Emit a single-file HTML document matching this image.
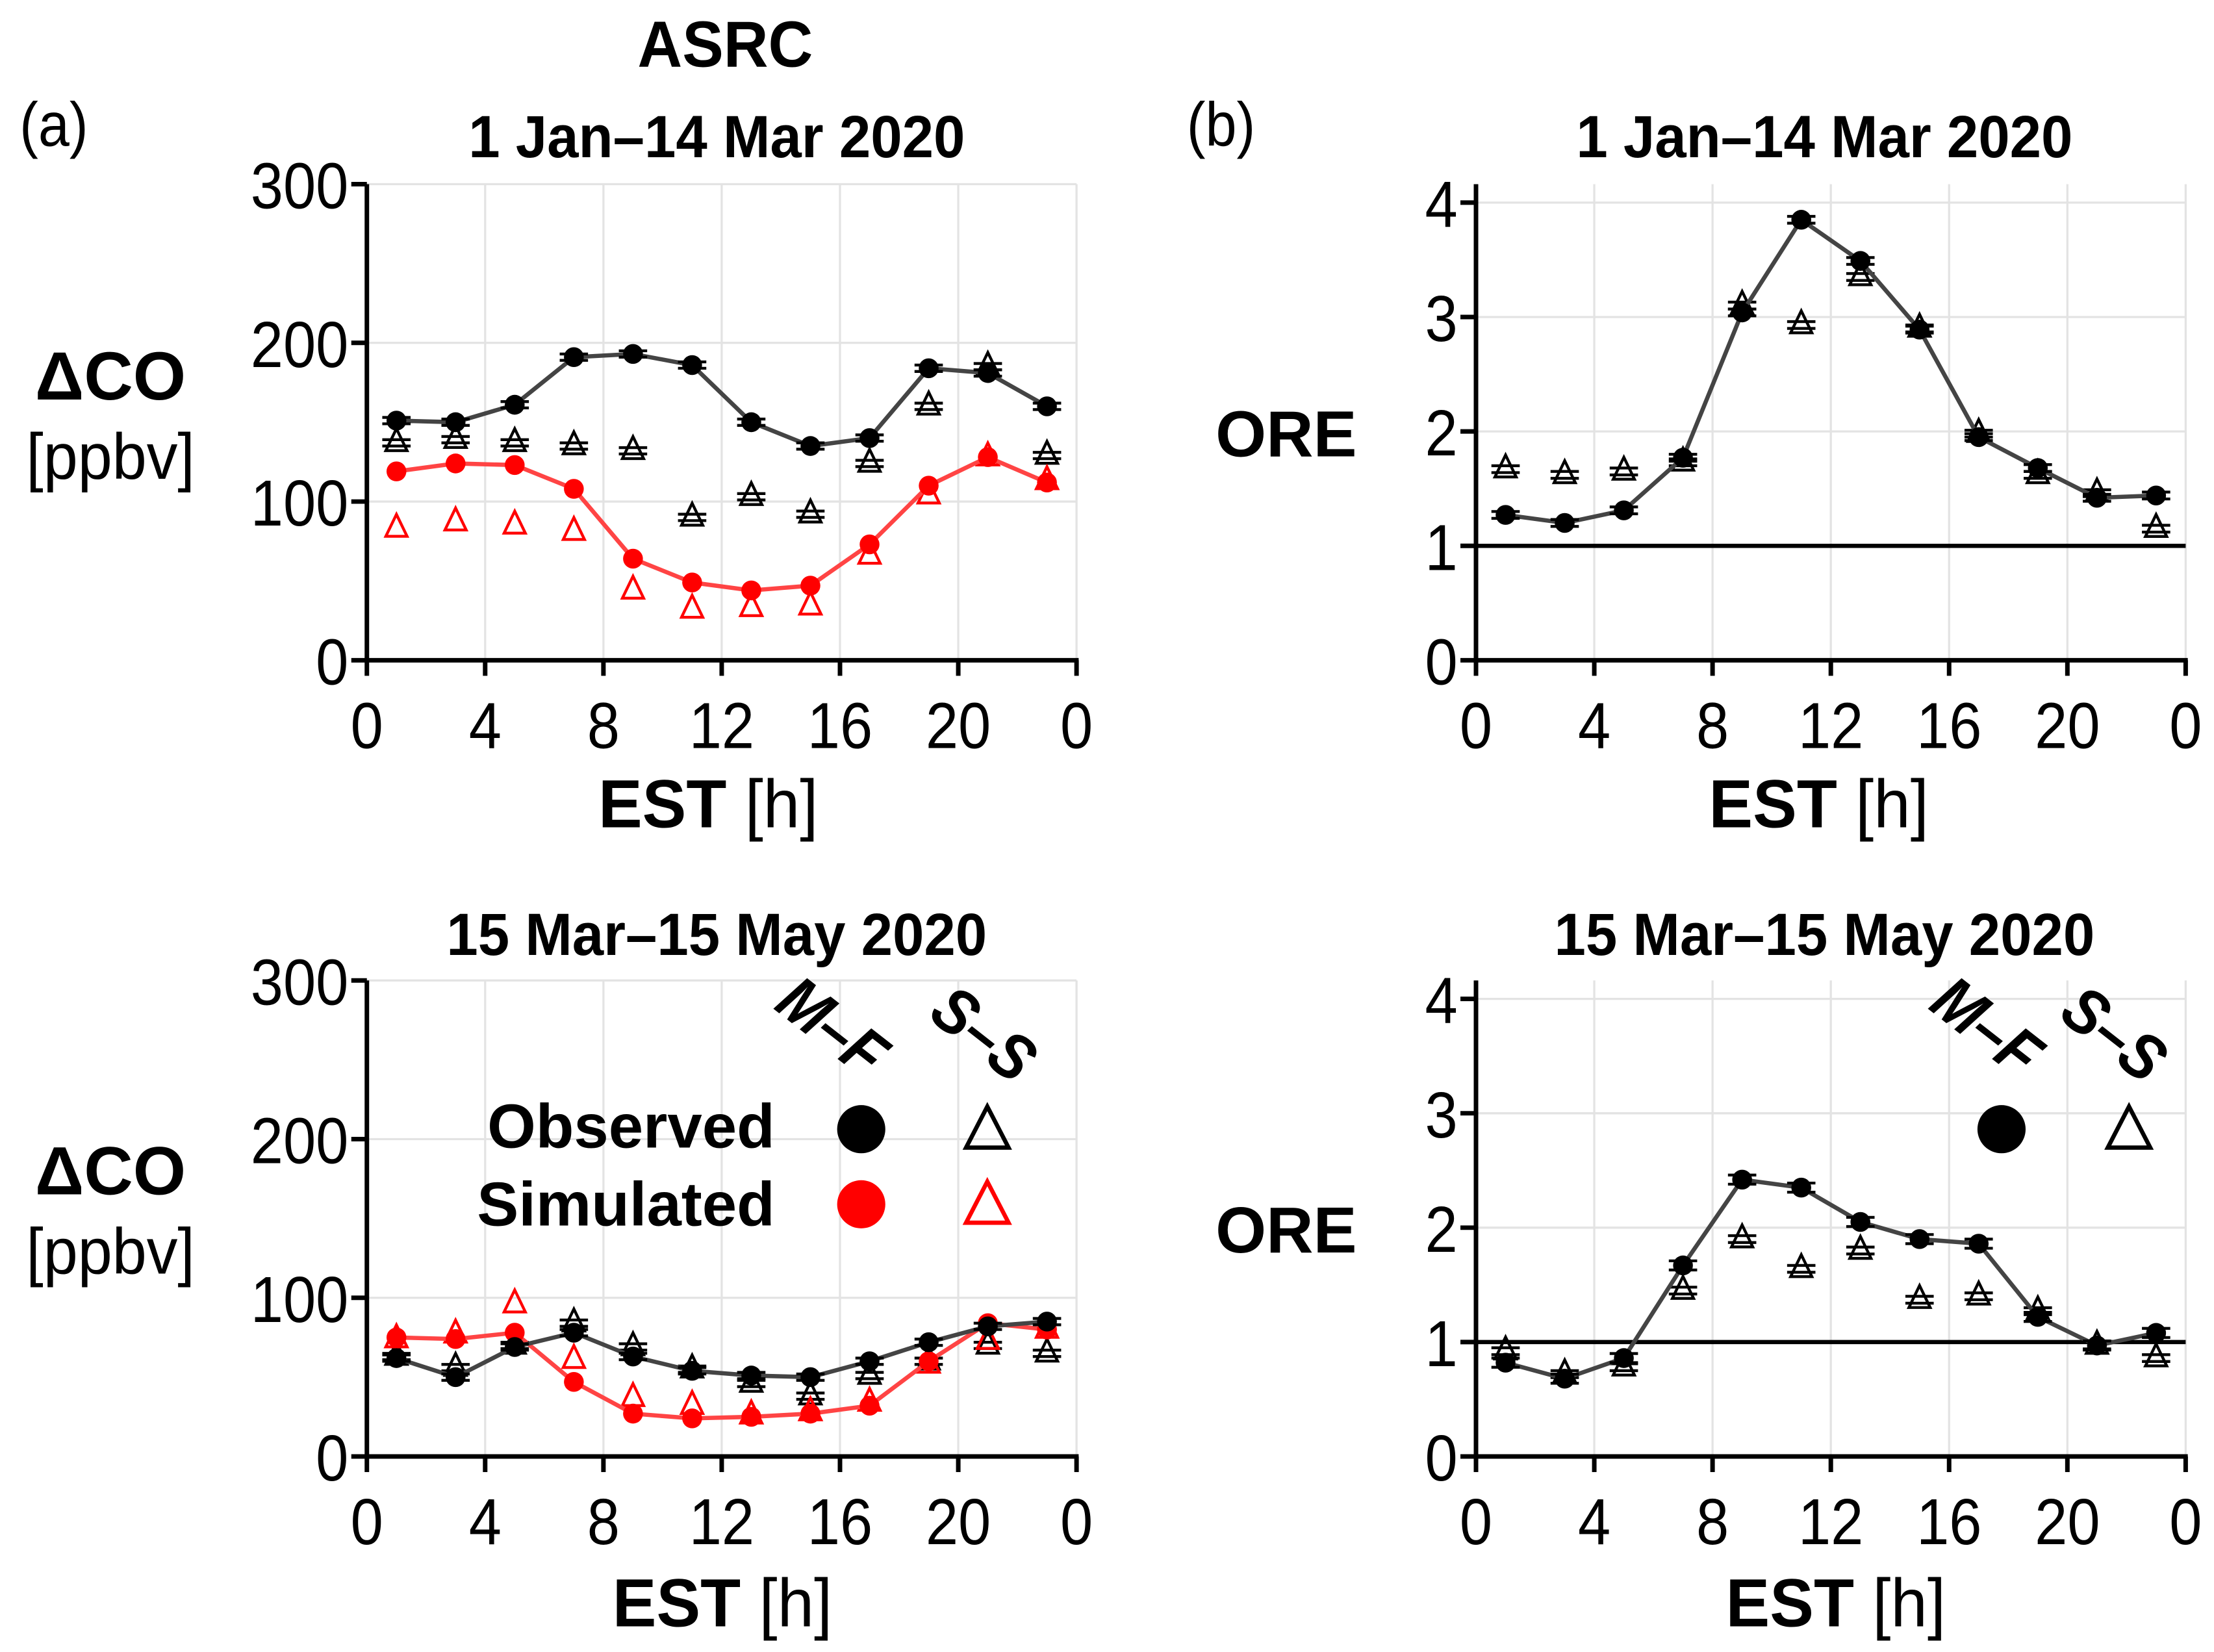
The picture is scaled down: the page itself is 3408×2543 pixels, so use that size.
<!DOCTYPE html>
<html><head><meta charset="utf-8"><style>
html,body{margin:0;padding:0;background:#fff}
svg{display:block}
text{font-family:"Liberation Sans Narrow","Liberation Sans",sans-serif}
.b{font-family:"Liberation Sans",sans-serif;font-weight:bold}
</style></head><body>
<svg id="fig" width="3408" height="2543" viewBox="0 0 1563 1166" preserveAspectRatio="none" xmlns="http://www.w3.org/2000/svg">
<text x="512" y="47" text-anchor="middle" font-size="46" class="b" data-sx="0.95">ASRC</text>
<text x="38" y="103" text-anchor="middle" font-size="44" data-sx="0.9">(a)</text>
<text x="862" y="103" text-anchor="middle" font-size="44" data-sx="0.9">(b)</text>
<g id="plots"></g>
</svg>
<script>
const hours=[1,3,5,7,9,11,13,15,17,19,21,23];
const xTicks=[0,4,8,12,16,20,24];
const xTickLabels=["0","4","8","12","16","20","0"];
const coTicks=[0,100,200,300];
const oreTicks=[0,1,2,3,4];
// Panel a top (1 Jan–14 Mar)
const coObsMF1=[151,150,161,191,193,186,150,135,140,184,181,160];
const coObsSS1=[137,139,137,135,132,90,103,92,124,160,185,129];
const coSimMF1=[119,124,123,108,64,49,44,47,73,110,128,112];
const coSimSS1=[83,87,85,81,44,32,33,34,66,104,128,113];
// Panel a bottom (15 Mar–15 May)
const coObsMF2=[62,50,69,78,63,54,51,50,60,72,82,85];
const coObsSS2=[63,56,70,84,69,55,46,38,51,60,70,65];
const coSimMF2=[75,74,78,47,27,24,25,27,32,60,84,80];
const coSimSS2=[74,77,96,61,37,32,26,28,34,58,73,80];
// Panel b
const oreMF1=[1.27,1.20,1.31,1.77,3.04,3.85,3.49,2.89,1.95,1.68,1.42,1.44];
const oreSS1=[1.67,1.62,1.65,1.73,3.10,2.93,3.35,2.90,1.98,1.62,1.46,1.15];
const oreMF2=[0.82,0.68,0.86,1.67,2.42,2.35,2.05,1.90,1.86,1.22,0.97,1.08];
const oreSS2=[0.92,0.72,0.78,1.45,1.90,1.64,1.80,1.37,1.40,1.27,0.97,0.86];

const NS="http://www.w3.org/2000/svg";
const root=document.getElementById('plots');
function mk(tag,attrs,parent){const e=document.createElementNS(NS,tag);for(const k in attrs)e.setAttribute(k,attrs[k]);(parent||root).appendChild(e);return e;}
function txt(x,y,s,size,anchor,cls,parent,sx){const t=mk('text',{x:x,y:y,'font-size':size,'text-anchor':anchor||'middle','data-sx':sx||0.95},parent);if(cls)t.setAttribute('class',cls);t.textContent=s;return t;}

function panel(o){
  const g=mk('g',{});
  
  
  const X=h=>o.x0+(o.x1-o.x0)*h/24;
  const Y=v=>o.y0-(o.y0-o.yTop)*v/o.ymax;
  xTicks.forEach(t=>{const l=mk('line',{x1:X(t),x2:X(t),y1:o.gridTop,y2:o.y0,stroke:'#e3e3e3','stroke-width':1.5},g);});
  o.yt.forEach(t=>{const l=mk('line',{x1:o.x0,x2:o.x1,y1:Y(t),y2:Y(t),stroke:'#e3e3e3','stroke-width':1.5},g);});
  if(o.ref){const l=mk('line',{x1:o.x0,x2:o.x1,y1:Y(1),y2:Y(1),stroke:'#000','stroke-width':3},g);}
  const ya=mk('line',{x1:o.x0,x2:o.x0,y1:o.gridTop,y2:o.y0+1.5,stroke:'#000','stroke-width':3.2},g);
  
  const xa=mk('line',{x1:o.x0-1.5,x2:o.x1+1.5,y1:o.y0,y2:o.y0,stroke:'#000','stroke-width':3.2},g);
  
  xTicks.forEach((t,i)=>{
    mk('line',{x1:X(t),x2:X(t),y1:o.y0,y2:o.y0+11,stroke:'#000','stroke-width':3.2},g);
    const tl=txt(X(t),o.y0+62,xTickLabels[i],46,'middle',null,g,0.9);
    
  });
  o.yt.forEach(t=>{
    mk('line',{x1:o.x0-11,x2:o.x0,y1:Y(t),y2:Y(t),stroke:'#000','stroke-width':3.2},g);
    const tl=txt(o.x0-13,Y(t)+17,String(t),46,'end',null,g,0.9);
    
  });
  o.series.forEach(s=>{
    if(s.line){
      const pl=mk('polyline',{points:hours.map((h,i)=>X(h)+','+Y(s.v[i])).join(' '),fill:'none',stroke:s.lc,'stroke-width':3},g);
      
    }
    hours.forEach((h,i)=>{
      const cx=X(h),cy=Y(s.v[i]);
      if(s.err){
        const e=s.err;
        mk('line',{x1:cx-10,x2:cx+10,y1:Y(s.v[i]+e),y2:Y(s.v[i]+e),stroke:'#000','stroke-width':2},g);
        mk('line',{x1:cx-10,x2:cx+10,y1:Y(s.v[i]-e),y2:Y(s.v[i]-e),stroke:'#000','stroke-width':2},g);
      }
      let m;
      if(s.shape==='c'){m=mk('circle',{cx:cx,cy:cy,r:7,fill:s.c},g);}
      else{m=mk('polygon',{points:`${cx},${cy-10} ${cx-7.5},${cy+5.5} ${cx+7.5},${cy+5.5}`,fill:'none',stroke:s.c,'stroke-width':2},g);}
      
      
    });
  });
  return {g,X,Y};
}

const xA0=259,xA1=760,xB0=1042,xB1=1543;
panel({name:'panel-a-top',x0:xA0,x1:xA1,y0:466,yTop:130,gridTop:130,ymax:300,yt:coTicks,series:[
 {name:'obs-ss',v:coObsSS1,shape:'t',c:'#000',err:2},
 {name:'sim-ss',v:coSimSS1,shape:'t',c:'#f00'},
 {name:'sim-mf',v:coSimMF1,shape:'c',c:'#f00',line:true,lc:'#f44'},
 {name:'obs-mf',v:coObsMF1,shape:'c',c:'#000',line:true,lc:'#444',err:2}]});
panel({name:'panel-a-bottom',x0:xA0,x1:xA1,y0:1028,yTop:692,gridTop:692,ymax:300,yt:coTicks,series:[
 {name:'obs-ss',v:coObsSS2,shape:'t',c:'#000',err:2},
 {name:'sim-ss',v:coSimSS2,shape:'t',c:'#f00'},
 {name:'sim-mf',v:coSimMF2,shape:'c',c:'#f00',line:true,lc:'#f44'},
 {name:'obs-mf',v:coObsMF2,shape:'c',c:'#000',line:true,lc:'#444',err:2}]});
panel({name:'panel-b-top',x0:xB0,x1:xB1,y0:466,yTop:143,gridTop:130,ymax:4,yt:oreTicks,ref:true,series:[
 {name:'obs-ss',v:oreSS1,shape:'t',c:'#000',err:0.03},
 {name:'obs-mf',v:oreMF1,shape:'c',c:'#000',line:true,lc:'#444',err:0.03}]});
panel({name:'panel-b-bottom',x0:xB0,x1:xB1,y0:1028,yTop:705,gridTop:692,ymax:4,yt:oreTicks,ref:true,series:[
 {name:'obs-ss',v:oreSS2,shape:'t',c:'#000',err:0.03},
 {name:'obs-mf',v:oreMF2,shape:'c',c:'#000',line:true,lc:'#444',err:0.04}]});

function label(x,y,s,size,name,cls,anchor,sx){const t=txt(x,y,s,size,anchor||'middle',cls,null,sx);return t;}
label(506,111,'1 Jan–14 Mar 2020',42,'panel-a-top-title','b','middle',0.95);
label(1288,111,'1 Jan–14 Mar 2020',42,'panel-b-top-title','b','middle',0.95);
label(506,674,'15 Mar–15 May 2020',42,'panel-a-bottom-title','b','middle',0.95);
label(1288,674,'15 Mar–15 May 2020',42,'panel-b-bottom-title','b','middle',0.95);
label(78,282,'ΔCO',48,'y-axis-title-top','b','middle',1);
label(78,338,'[ppbv]',46,'y-axis-unit-top',null,'middle',0.95);
label(78,843,'ΔCO',48,'y-axis-title-bottom','b','middle',1);
label(78,899,'[ppbv]',46,'y-axis-unit-bottom',null,'middle',0.95);
label(908,322,'ORE',46,'ore-axis-title-top','b','middle',1);
label(908,884,'ORE',46,'ore-axis-title-bottom','b','middle',1);
[[500,584],[1284,584],[510,1148],[1296,1148]].forEach((p,i)=>{
  const t=mk('text',{x:p[0],y:p[1],'font-size':48,'text-anchor':'middle','data-sx':0.97});
  
  
  t.innerHTML='<tspan font-weight="bold" style="font-family:\'Liberation Sans\',sans-serif">EST</tspan> [h]';
});
function legend(mfx,ssx,cx,tx,withSim){
  let t=label(mfx,737,'M–F',46,'legend-mf-header','b','middle',0.9);t.setAttribute('data-rot',`rotate(38 ${mfx} 737)`);t.setAttribute('font-style','italic');
  t=label(ssx,742,'S–S',46,'legend-ss-header','b','middle',0.9);t.setAttribute('data-rot',`rotate(38 ${ssx} 742)`);t.setAttribute('font-style','italic');
  let c=mk('circle',{cx:cx,cy:797,r:17,fill:'#000'});
  let p=mk('polygon',{points:`${tx},${781} ${tx-15},${810} ${tx+15},${810}`,fill:'none',stroke:'#000','stroke-width':3});
  if(withSim){
    label(547,810,'Observed',44,'legend-observed-label','b','end',1);
    label(547,865,'Simulated',44,'legend-simulated-label','b','end',1);
    c=mk('circle',{cx:cx,cy:850,r:17,fill:'#f00'});
    p=mk('polygon',{points:`${tx},${834} ${tx-15},${863} ${tx+15},${863}`,fill:'none',stroke:'#f00','stroke-width':3});
  }
}
legend(578,685,608,697,true);
legend(1393,1483,1413,1503,false);
document.querySelectorAll('#fig text').forEach(t=>{
  const sx=parseFloat(t.getAttribute('data-sx')||'0.95');
  const x=parseFloat(t.getAttribute('x'));
  const rot=t.getAttribute('data-rot')||'';
  t.setAttribute('transform',`${rot} translate(${x} 0) scale(${sx} 1) translate(${-x} 0)`);
});
</script>
</body></html>
